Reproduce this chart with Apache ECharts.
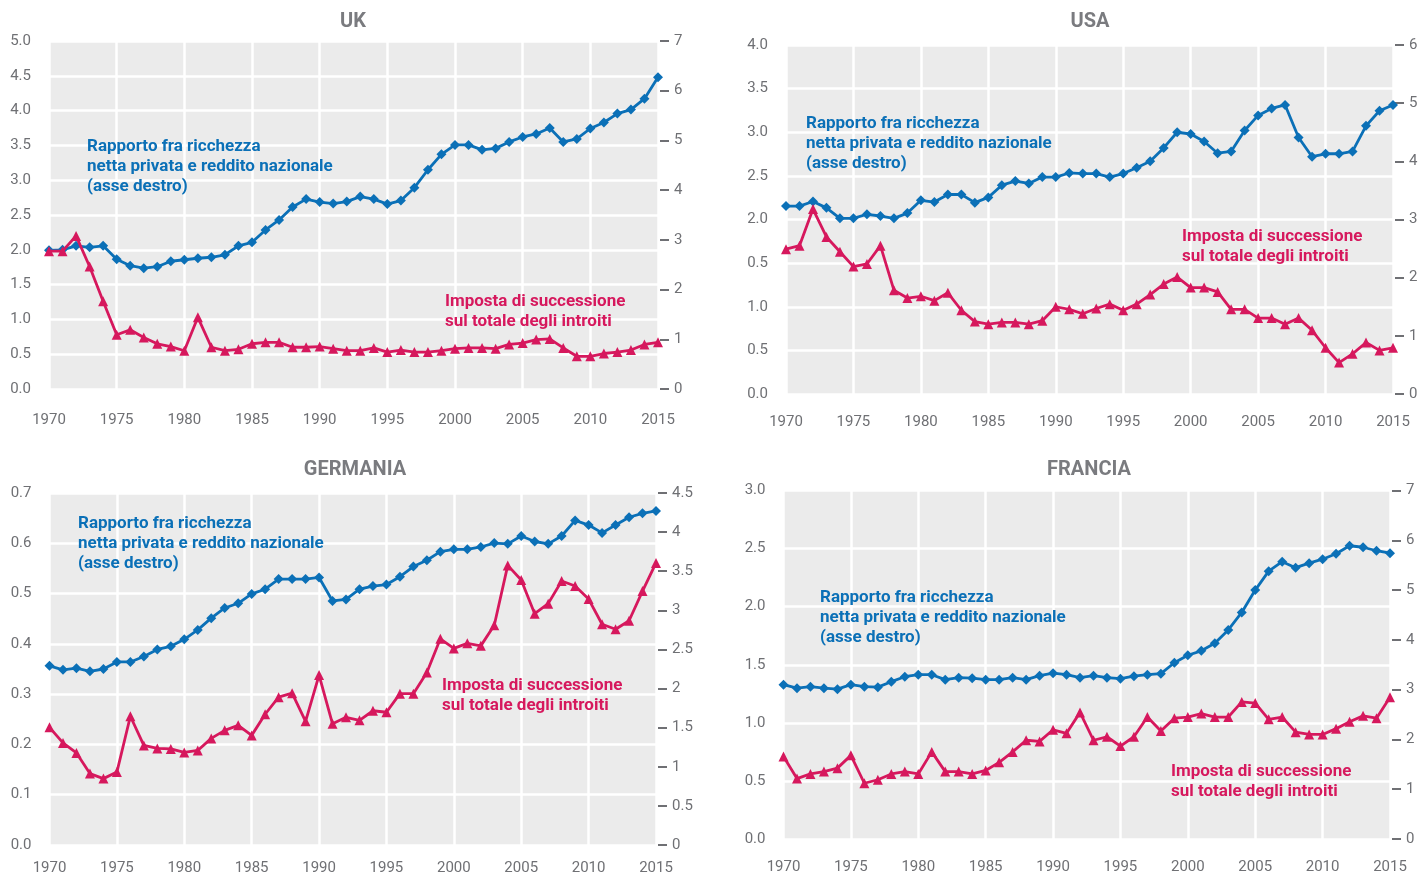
<!DOCTYPE html>
<html>
<head>
<meta charset="utf-8">
<script src="https://cdn.jsdelivr.net/npm/echarts@6/dist/echarts.min.js"></script>
<style>
html,body{margin:0;padding:0;background:#fff;}
#c{width:1421px;height:876px;}
</style>
</head>
<body>
<div id="c"></div>
<script>
// ---- data ----
const years = [1970,1971,1972,1973,1974,1975,1976,1977,1978,1979,
               1980,1981,1982,1983,1984,1985,1986,1987,1988,1989,
               1990,1991,1992,1993,1994,1995,1996,1997,1998,1999,
               2000,2001,2002,2003,2004,2005,2006,2007,2008,2009,
               2010,2011,2012,2013,2014,2015];

const panelTitles = ['UK', 'USA', 'GERMANIA', 'FRANCIA'];
const wealthLabel = 'Rapporto fra ricchezza\nnetta privata e reddito nazionale\n(asse destro)';
const taxLabel = 'Imposta di successione\nsul totale degli introiti';

// UK
const ukWealth = [2.79,2.80,2.88,2.85,2.88,2.61,2.48,2.43,2.46,2.57,
                  2.60,2.63,2.65,2.70,2.88,2.95,3.20,3.40,3.66,3.82,
                  3.76,3.73,3.77,3.87,3.82,3.72,3.79,4.05,4.41,4.72,
                  4.91,4.91,4.81,4.84,4.97,5.07,5.13,5.25,4.97,5.03,
                  5.24,5.36,5.54,5.62,5.84,6.27];
const ukTax = [1.98,1.98,2.20,1.76,1.26,0.78,0.85,0.74,0.65,0.61,
               0.55,1.03,0.60,0.55,0.57,0.65,0.67,0.67,0.60,0.60,
               0.61,0.58,0.55,0.55,0.59,0.53,0.56,0.53,0.53,0.55,
               0.58,0.59,0.59,0.58,0.64,0.66,0.71,0.72,0.59,0.47,
               0.47,0.51,0.53,0.56,0.64,0.67];
// USA
const usaWealth = [3.23,3.23,3.31,3.20,3.02,3.02,3.09,3.06,3.02,3.11,
                   3.33,3.30,3.43,3.43,3.29,3.38,3.59,3.66,3.62,3.73,
                   3.73,3.80,3.79,3.79,3.73,3.79,3.89,4.00,4.23,4.50,
                   4.47,4.34,4.14,4.17,4.53,4.79,4.91,4.97,4.41,4.08,
                   4.13,4.13,4.17,4.61,4.87,4.97];
const usaTax = [1.66,1.70,2.12,1.80,1.63,1.46,1.49,1.70,1.19,1.10,
                1.12,1.07,1.16,0.96,0.83,0.80,0.82,0.82,0.80,0.84,
                1.00,0.97,0.92,0.98,1.03,0.96,1.03,1.14,1.26,1.34,
                1.22,1.22,1.17,0.97,0.97,0.87,0.87,0.80,0.87,0.73,
                0.53,0.36,0.46,0.59,0.50,0.53];
// Germany
const deWealth = [2.29,2.24,2.26,2.22,2.25,2.34,2.34,2.41,2.50,2.54,
                  2.63,2.75,2.90,3.03,3.09,3.21,3.27,3.40,3.40,3.40,
                  3.42,3.12,3.14,3.27,3.31,3.33,3.43,3.56,3.64,3.75,
                  3.78,3.78,3.81,3.86,3.85,3.95,3.88,3.85,3.95,4.15,
                  4.09,3.99,4.09,4.19,4.24,4.27];
const deTax = [0.234,0.203,0.183,0.142,0.132,0.145,0.256,0.198,0.192,0.191,
               0.184,0.188,0.212,0.228,0.238,0.218,0.260,0.294,0.302,0.246,
               0.338,0.241,0.254,0.248,0.267,0.264,0.301,0.301,0.343,0.410,
               0.391,0.401,0.396,0.437,0.556,0.527,0.460,0.480,0.525,0.515,
               0.489,0.439,0.429,0.446,0.505,0.561];
// France
const frWealth = [3.10,3.03,3.06,3.03,3.01,3.10,3.06,3.05,3.16,3.26,
                  3.30,3.30,3.20,3.24,3.23,3.20,3.20,3.24,3.20,3.28,
                  3.33,3.30,3.24,3.28,3.24,3.22,3.27,3.30,3.32,3.54,
                  3.69,3.78,3.93,4.20,4.55,5.00,5.38,5.57,5.45,5.54,
                  5.62,5.73,5.89,5.86,5.79,5.74];
const frTax = [0.71,0.52,0.56,0.58,0.61,0.72,0.48,0.51,0.56,0.58,
               0.56,0.75,0.58,0.58,0.56,0.59,0.66,0.75,0.85,0.84,
               0.94,0.91,1.09,0.85,0.88,0.80,0.88,1.05,0.93,1.04,
               1.05,1.08,1.05,1.05,1.18,1.17,1.03,1.05,0.92,0.90,
               0.90,0.95,1.01,1.06,1.04,1.22];

// tick labels as printed in the source (USA left axis has a misprint kept as-is)
const usaLeftTickLabels = ['0.0','0.5','1.0','0.5','2.0','2.5','3.0','3.5','4.0'];

// axis ranges
const leftAxes = [
  {max: 5, interval: 0.5},
  {max: 4, interval: 0.5},
  {max: 0.7, interval: 0.1},
  {max: 3, interval: 0.5}
];
const rightAxes = [
  {max: 7, interval: 1},
  {max: 6, interval: 1},
  {max: 4.5, interval: 0.5},
  {max: 7, interval: 1}
];

// ---- layout / style ----
const BLUE = '#0b70b7';
const PINK = '#d6185d';
const GRAY_TXT = '#6f7074';
const TITLE_TXT = '#7a7b7f';
const BG = '#ebebeb';
const FONT = 'Roboto, "DejaVu Sans", sans-serif';

const grids = [
  {left: 49, top: 41, width: 609, height: 348},
  {left: 786, top: 45, width: 607, height: 349},
  {left: 49.5, top: 493, width: 606.5, height: 353.5},
  {left: 783.5, top: 490.5, width: 606.5, height: 348.5}
];
const xLabelMargin = [24, 21, 16, 21];
const titlePos = [[353, 22], [1090, 22], [355, 470], [1089, 470]];
const wealthTextPos = [[87, 137], [806, 114], [78, 514], [820, 588]];
const taxTextPos = [[445, 292], [1182, 227], [442, 676], [1171, 762]];

const wealthSeries = [ukWealth, usaWealth, deWealth, frWealth];
const taxSeries = [ukTax, usaTax, deTax, frTax];

function pairs(vals) {
  return years.map((y, i) => [y, vals[i]]);
}

const option = {
  animation: false,
  backgroundColor: '#ffffff',
  grid: [], xAxis: [], yAxis: [], series: [], graphic: []
};

for (let p = 0; p < 4; p++) {
  option.grid.push(Object.assign({show: true, backgroundColor: BG, borderWidth: 0, containLabel: false}, grids[p]));
  option.xAxis.push({
    type: 'value', gridIndex: p, min: 1970, max: 2015, interval: 5,
    axisLine: {show: false}, axisTick: {show: false},
    axisLabel: {color: GRAY_TXT, fontFamily: FONT, fontSize: 15, margin: xLabelMargin[p],
                showMinLabel: true, showMaxLabel: true, formatter: v => String(v)},
    splitLine: {show: true, lineStyle: {color: '#ffffff', width: 2.5}}
  });
  const la = leftAxes[p];
  option.yAxis.push({
    type: 'value', gridIndex: p, min: 0, max: la.max, interval: la.interval, position: 'left',
    axisLine: {show: false}, axisTick: {show: false},
    axisLabel: {color: GRAY_TXT, fontFamily: FONT, fontSize: 15, margin: 18,
                formatter: p === 1
                  ? (v => usaLeftTickLabels[Math.round(v / la.interval)])
                  : (v => v.toFixed(1))},
    splitLine: {show: true, lineStyle: {color: '#ffffff', width: 2.5}}
  });
  const ra = rightAxes[p];
  option.yAxis.push({
    type: 'value', gridIndex: p, min: 0, max: ra.max, interval: ra.interval, position: 'right',
    offset: 2,
    axisLine: {show: false},
    axisTick: {show: true, length: 9, inside: false, lineStyle: {color: GRAY_TXT, width: 2}},
    axisLabel: {color: GRAY_TXT, fontFamily: FONT, fontSize: 15, margin: 14},
    splitLine: {show: false}
  });
  option.series.push({
    type: 'line', xAxisIndex: p, yAxisIndex: 2 * p + 1,
    data: pairs(wealthSeries[p]),
    symbol: 'diamond', symbolSize: 10, showSymbol: true,
    lineStyle: {color: BLUE, width: 2.8},
    itemStyle: {color: BLUE, borderWidth: 0},
    z: 3
  });
  option.series.push({
    type: 'line', xAxisIndex: p, yAxisIndex: 2 * p,
    data: pairs(taxSeries[p]),
    symbol: 'triangle', symbolSize: 10, showSymbol: true,
    lineStyle: {color: PINK, width: 2.8},
    itemStyle: {color: PINK, borderWidth: 0},
    z: 4
  });
  option.graphic.push({
    type: 'text', x: titlePos[p][0], y: titlePos[p][1],
    style: {text: panelTitles[p], font: 'bold 20px ' + FONT, fill: TITLE_TXT,
            align: 'center', verticalAlign: 'middle'}
  });
  option.graphic.push({
    type: 'text', x: wealthTextPos[p][0], y: wealthTextPos[p][1], z: 10,
    style: {text: wealthLabel, font: 'bold 17px ' + FONT, fill: BLUE, lineHeight: 20,
            align: 'left', verticalAlign: 'top'}
  });
  option.graphic.push({
    type: 'text', x: taxTextPos[p][0], y: taxTextPos[p][1], z: 10,
    style: {text: taxLabel, font: 'bold 17px ' + FONT, fill: PINK, lineHeight: 20,
            align: 'left', verticalAlign: 'top'}
  });
}

const chart = echarts.init(document.getElementById('c'), null, {renderer: 'canvas'});
chart.setOption(option);
</script>
</body>
</html>
